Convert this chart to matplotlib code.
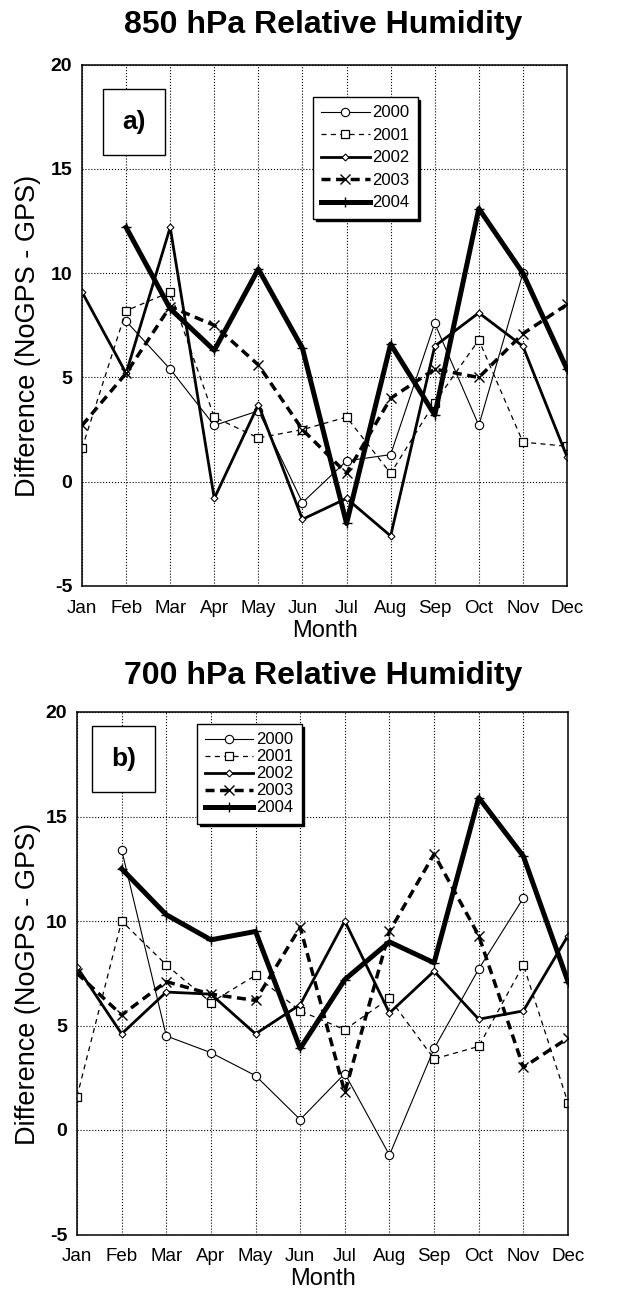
import numpy as np
import matplotlib
import matplotlib.pyplot as plt
from matplotlib.patches import Rectangle

matplotlib.use('agg')

plt.rcParams['font.family'] = ['Liberation Sans', 'DejaVu Sans']
plt.rcParams['axes.unicode_minus'] = False

nan = np.nan
months = ["Jan", "Feb", "Mar", "Apr", "May", "Jun",
          "Jul", "Aug", "Sep", "Oct", "Nov", "Dec"]
years = ["2000", "2001", "2002", "2003", "2004"]

# 850 hPa differences (NoGPS - GPS)
rh850_2000 = [nan, 7.7, 5.4, 2.7, 3.4, -1.0, 1.0, 1.3, 7.6, 2.7, 10.0, nan]
rh850_2001 = [1.6, 8.2, 9.1, 3.1, 2.1, 2.5, 3.1, 0.4, 3.8, 6.8, 1.9, 1.7]
rh850_2002 = [9.1, 5.2, 12.2, -0.8, 3.7, -1.8, -0.8, -2.6, 6.5, 8.1, 6.5, 1.2]
rh850_2003 = [2.7, 5.2, 8.4, 7.5, 5.6, 2.5, 0.4, 4.0, 5.4, 5.0, 7.1, 8.5]
rh850_2004 = [nan, 12.2, 8.3, 6.3, 10.2, 6.4, -2.0, 6.6, 3.2, 13.1, 10.0, 5.4]

# 700 hPa differences (NoGPS - GPS)
rh700_2000 = [nan, 13.4, 4.5, 3.7, 2.6, 0.5, 2.7, -1.2, 3.9, 7.7, 11.1, nan]
rh700_2001 = [1.6, 10.0, 7.9, 6.1, 7.4, 5.7, 4.8, 6.3, 3.4, 4.0, 7.9, 1.3]
rh700_2002 = [7.8, 4.6, 6.6, 6.5, 4.6, 6.0, 10.0, 5.6, 7.6, 5.3, 5.7, 9.3]
rh700_2003 = [7.5, 5.5, 7.1, 6.5, 6.2, 9.7, 1.8, 9.5, 13.2, 9.3, 3.0, 4.4]
rh700_2004 = [nan, 12.5, 10.3, 9.1, 9.5, 3.9, 7.2, 9.0, 8.0, 15.9, 13.1, 7.1]

styles = {
    "2000": dict(lw=0.8, ls='-', marker='o', ms=6, mfc='white', mew=0.8),
    "2001": dict(lw=0.9, ls=(0, (4, 3.5)), marker='s', ms=5.5, mfc='white', mew=0.9),
    "2002": dict(lw=2.0, ls='-', marker='D', ms=3.5, mfc='white', mew=0.8),
    "2003": dict(lw=2.5, ls=(0, (2.6, 1.6)), marker='x', ms=7, mew=1.0),
    "2004": dict(lw=3.6, ls='-', marker='+', ms=7, mew=1.0),
}

W, H = 623, 1292
fig = plt.figure(figsize=(W / 100, H / 100), dpi=100)


def px_axes(left, top, right, bottom):
    return fig.add_axes([left / W, 1 - bottom / H, (right - left) / W, (bottom - top) / H])


def panel(ax, series, tag, tagbox, leg_anchor, leg_spacing, ylab_x):
    x = np.arange(len(months))
    for yr, vals in zip(years, series):
        ax.plot(x, vals, color='black', label=yr, **styles[yr])
    ax.set_xlim(0, 11)
    ax.set_ylim(-5, 20)
    ax.set_xticks(x, months, fontsize=13.5)
    ax.set_yticks([-5, 0, 5, 10, 15, 20])
    ax.set_yticklabels(["-5", "0", "5", "10", "15", "20"], fontsize=14, fontweight='bold')
    ax.tick_params(length=0)
    ax.tick_params(axis='y', pad=7)
    ax.tick_params(axis='x', pad=10)
    ax.grid(True, linestyle=':', color='black', linewidth=0.8)
    for s in ax.spines.values():
        s.set_linewidth(1.1)
    ax.set_xlabel("Month", fontsize=17, labelpad=2)
    ax.set_ylabel("Difference (NoGPS - GPS)", fontsize=19.5)
    ax.yaxis.set_label_coords(ylab_x, 0.48)

    l, b, r, t = tagbox
    ax.add_patch(Rectangle((l, b), r - l, t - b, transform=ax.transAxes,
                           fill=True, facecolor='white', edgecolor='black', lw=1.0, zorder=5))
    ax.text((l + r) / 2, (b + t) / 2, tag, transform=ax.transAxes, ha='center', va='center',
            fontsize=19, fontweight='bold', zorder=6)

    leg = ax.legend(loc='upper left', bbox_to_anchor=leg_anchor, borderaxespad=0,
                    fontsize=12, handlelength=2.9, handletextpad=0.15, labelspacing=leg_spacing,
                    borderpad=0.5, fancybox=False, framealpha=1, edgecolor='black',
                    shadow={'color': 'black', 'alpha': 1})
    leg.get_frame().set_linewidth(1.0)


ax1 = px_axes(82, 64.7, 567, 586)
panel(ax1, [rh850_2000, rh850_2001, rh850_2002, rh850_2003, rh850_2004],
      "a)", (0.043, 0.827, 0.171, 0.953), (0.476, 0.938), 0.45, -0.0845)

ax2 = px_axes(77, 712, 568, 1234.5)
panel(ax2, [rh700_2000, rh700_2001, rh700_2002, rh700_2003, rh700_2004],
      "b)", (0.031, 0.847, 0.159, 0.973), (0.244, 0.977), 0.12, -0.073)

fig.text(323 / W, 1 - 25 / H, "850 hPa Relative Humidity", ha='center', va='center',
         fontsize=23, fontweight='bold')
fig.text(323 / W, 1 - 676 / H, "700 hPa Relative Humidity", ha='center', va='center',
         fontsize=23, fontweight='bold')

fig.savefig("out.png", dpi=100)
